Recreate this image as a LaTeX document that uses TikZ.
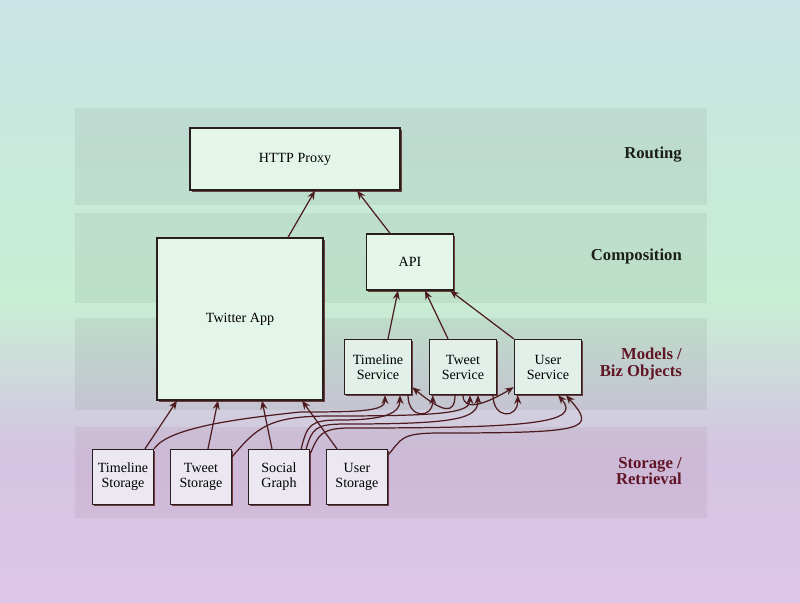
\documentclass[tikz,border=0pt]{standalone}
\usepackage{fontspec}
\setmainfont{Liberation Serif}
\usepackage{xcolor}
\usepackage{tikz}
\usetikzlibrary{shapes, arrows.meta, positioning, calc, shadows}

\definecolor{bgtop}{RGB}{200,228,228}
\definecolor{bgmid}{RGB}{200,238,212}
\definecolor{bglow}{RGB}{212,196,226}
\definecolor{bgbot}{RGB}{222,198,232}
\definecolor{boxline}{RGB}{40,30,30}
\definecolor{linkcol}{RGB}{78,28,32}
\definecolor{tiertop}{RGB}{28,30,24}
\definecolor{tierbot}{RGB}{96,22,38}
\definecolor{mintfill}{RGB}{228,246,233}
\definecolor{svcfill}{RGB}{226,240,233}
\definecolor{stofill}{RGB}{236,232,242}

\begin{document}
\begin{tikzpicture}[
    x=0.02cm, y=-0.02cm,
    box/.style={rectangle, draw=boxline, line width=0.8pt, fill=mintfill, align=center,
        font=\fontsize{8}{8.5}\selectfont, inner sep=2pt,
        drop shadow={shadow xshift=1.1pt, shadow yshift=-1.1pt, fill=black!70!red, opacity=0.7}},
    svc/.style={box, fill=svcfill, minimum width=1.34cm, minimum height=1.1cm, node distance=1.7cm},
    store/.style={box, fill=stofill, minimum width=1.22cm, minimum height=1.1cm, node distance=1.56cm},
    tier/.style={anchor=east, align=right, font=\bfseries\fontsize{9.5}{9.5}\selectfont},
    band/.style={fill=black, opacity=0.055},
    link/.style={-{Stealth[length=5pt, width=4pt]}, draw=linkcol, line width=0.7pt},
]
\useasboundingbox (0,0) rectangle (800,602);
\shade[top color=bgtop, bottom color=bgmid] (0,0) rectangle (800,300);
\shade[top color=bgmid, bottom color=bgbot, middle color=bglow] (0,300) rectangle (800,602);

% Tiers
\fill[band] (75,108) rectangle (707,205);
\fill[band] (75,213) rectangle (707,303);
\fill[band] (75,318) rectangle (707,410);
\fill[band, fill=black!60!magenta, opacity=0.08] (75,427) rectangle (707,518);

\node (routing) [tier, text=tiertop] at (688,155) {Routing};
\node (compo) [tier, text=tiertop] at (688,256) {Composition};
\node (models) [tier, text=tierbot] at (688,364) {Models /\\Biz Objects};
\node (storage) [tier, text=tierbot] at (688,471) {Storage /\\Retrieval};

% Routing + composition
\node (proxy) [box, minimum width=4.2cm, minimum height=1.24cm] at (295,159) {HTTP Proxy};
\node (app) [box, minimum width=3.32cm, minimum height=3.24cm] at (240,319) {Twitter App};
\node (api) [box, minimum width=1.74cm, minimum height=1.12cm] at (410,262) {API};

% Services
\node (tlsvc) [svc] at (378,367) {Timeline\\Service};
\node (twsvc) [svc, right of=tlsvc] {Tweet\\Service};
\node (ussvc) [svc, right of=twsvc] {User\\Service};

% Storage
\node (tlsto) [store] at (123,477) {Timeline\\Storage};
\node (twsto) [store, right of=tlsto] {Tweet\\Storage};
\node (graph) [store, right of=twsto] {Social\\Graph};
\node (ussto) [store, right of=graph] {User\\Storage};

% Arrows up
\draw [link] ($(app.north)+(48,0)$) -- ($(proxy.south)+(20,0)$);
\draw [link] ($(api.north)+(-20,0)$) -- ($(proxy.south)+(62,0)$);
\draw [link] ($(tlsvc.north)+(10,0)$) -- ($(api.south)+(-12,0)$);
\draw [link] ($(twsvc.north)+(-15,0)$) -- ($(api.south)+(15,0)$);
\draw [link] (ussvc.north west) -- ($(api.south east)+(-4,0)$);

\draw [link] ($(tlsto.north)+(22,0)$) -- ($(app.south)+(-63,0)$);
\draw [link] ($(twsto.north)+(7,0)$) -- ($(app.south)+(-22,0)$);
\draw [link] ($(graph.north)+(-7,0)$) -- ($(app.south)+(22,0)$);
\draw [link] ($(ussto.north)+(-20,0)$) -- ($(app.south)+(62,0)$);

% Storage to services
\draw [link] (tlsto.north east) .. controls +(14,-22) and +(-55,6) .. (300,412)
    .. controls +(60,0) and +(0,16) .. ($(tlsvc.south)+(7,0)$);
\draw [link] ($(twsto.north east)+(0,8)$) .. controls +(25,-30) and +(-60,0) .. (330,416)
    .. controls +(110,0) and +(0,18) .. ($(twsvc.south)+(7,0)$);
\draw [link] ($(graph.north east)+(-9,0)$) .. controls +(6,-24) and +(-30,0) .. (340,420)
    .. controls +(45,0) and +(0,18) .. ($(tlsvc.south)+(22,0)$);
\draw [link] ($(graph.north east)+(-4,0)$) .. controls +(6,-20) and +(-30,0) .. (345,424)
    .. controls +(110,0) and +(0,24) .. ($(twsvc.south)+(15,0)$);
\draw [link] ($(graph.north east)+(0,5)$) .. controls +(8,-18) and +(-30,0) .. (350,428)
    .. controls +(180,0) and +(25,28) .. ($(ussvc.south)+(10,0)$);
\draw [link] ($(ussto.north east)+(0,6)$) .. controls +(14,-16) and +(-40,0) .. (440,433)
    .. controls +(150,0) and +(30,34) .. ($(ussvc.south)+(18,0)$);

% Between services
\draw [link] ($(twsvc.south)+(-8,0)$) .. controls +(0,20) and +(30,25) .. ($(tlsvc.south east)+(0,-8)$);
\draw [link] ($(tlsvc.south)+(30,0)$) .. controls +(0,24) and +(0,24) .. ($(twsvc.south west)+(4,0)$);
\draw [link] ($(twsvc.south)+(0,0)$) .. controls +(0,18) and +(-25,15) .. ($(ussvc.south west)+(0,-8)$);
\draw [link] ($(twsvc.south)+(30,0)$) .. controls +(0,24) and +(0,24) .. ($(ussvc.south west)+(4,0)$);

\end{tikzpicture}
\end{document}
